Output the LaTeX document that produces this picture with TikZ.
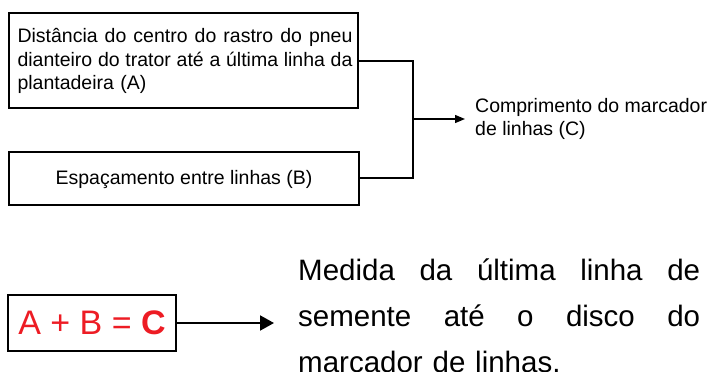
\documentclass[tikz,border=0pt]{standalone}
\usepackage{fontspec}
\setmainfont{Liberation Sans}
\usetikzlibrary{arrows.meta}
\definecolor{eqred}{HTML}{ED1C24}
\newcommand{\jl}[2]{\leavevmode\hbox to #1{#2}}
\begin{document}
\begin{tikzpicture}[x=1pt,y=-1pt,
  box/.style={draw=black,line width=2.4pt,inner sep=0pt,outer sep=0pt},
  conn/.style={draw=black,line width=2pt},
  arr/.style={draw=black,line width=1.3pt,-{Triangle[length=10pt,width=8pt]}},
  bigarr/.style={draw=black,line width=2pt,-{Triangle[length=14pt,width=15pt]}},
  toptext/.style={font=\fontsize{19.5}{23.5}\selectfont,inner sep=0pt}]
\useasboundingbox (0,0) rectangle (710,372);
% box A
\node[box,minimum width=349pt,minimum height=95pt] (A) at (183.5,60.5) {};
\node[toptext,text width=335pt,align=left,anchor=center] (At) at (185,61) {%
\jl{335pt}{Distância\hfill do\hfill centro\hfill do\hfill rastro\hfill do\hfill pneu}\\
\jl{335pt}{dianteiro\hfill do\hfill trator\hfill até\hfill a\hfill última\hfill linha\hfill da}\\
plantadeira (A)};
% box B
\node[box,minimum width=350pt,minimum height=53pt] (B) at (184,178.5) {};
\node[toptext] (Bt) at (184,179) {Espaçamento entre linhas (B)};
% connectors
\coordinate (ja) at (413,61);
\coordinate (jb) at (413,178);
\coordinate (jm) at (413,119);
\coordinate (ctip) at (465,119);
\draw[conn] (A.east |- ja) -- (ja) -- (jb) -- (B.east |- jb);
\node[toptext,align=left,anchor=west] (C) at (475,119) {Comprimento do marcador\\de linhas (C)};
\draw[arr] (jm) -- (ctip);
% bottom
\node[box,line width=2.2pt,minimum width=168pt,minimum height=56pt] (eq) at (92,323)
  {\fontsize{34}{36}\selectfont\color{eqred}A + B = \textbf{C}};
\node[font=\fontsize{29.5}{46}\selectfont,text width=402pt,align=left,inner sep=0pt,anchor=west] (D) at (298,316) {%
\jl{402pt}{Medida\hfill da\hfill última\hfill linha\hfill de}\\
\jl{402pt}{semente\hfill até\hfill o\hfill disco\hfill do}\\
marcador de linhas.};
\coordinate (tip) at (274,323);
\draw[bigarr] (eq.east) -- (tip);
\end{tikzpicture}
\end{document}
